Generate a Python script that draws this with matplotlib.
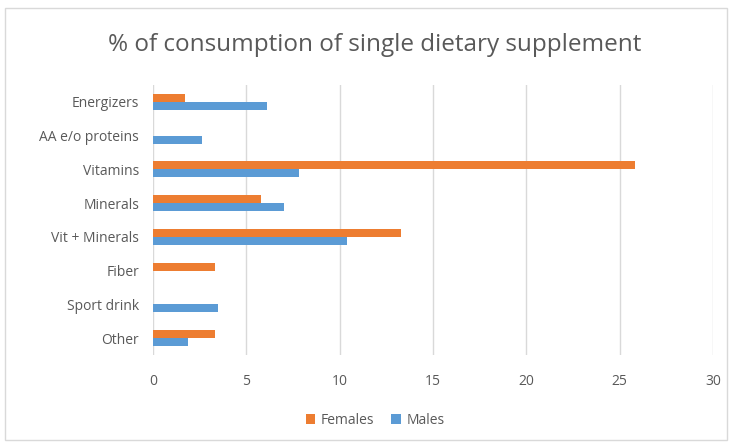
import numpy as np
import matplotlib.pyplot as plt
from matplotlib.patches import Rectangle

categories = ['Energizers', 'AA e/o proteins', 'Vitamins', 'Minerals',
              'Vit + Minerals', 'Fiber', 'Sport drink', 'Other']
females = [1.7, 0, 25.8, 5.8, 13.3, 3.3, 0, 3.3]
males = [6.1, 2.6, 7.8, 7.0, 10.4, 0, 3.5, 1.9]

plt.rcParams['font.family'] = ['Open Sans', 'DejaVu Sans']
grey = '#595959'

fig = plt.figure(figsize=(7.37, 4.48), dpi=100)
ax = fig.add_axes([153/737, 1-355/448, (713-153)/737, (355-85)/448])

y = np.arange(len(categories))
h = 0.24
ax.barh(y - h/2, females, height=h, color='#ED7D31', label='Females', zorder=3)
ax.barh(y + h/2, males, height=h, color='#5B9BD5', label='Males', zorder=3)

ax.set_xlim(0, 30)
ax.set_ylim(len(categories) - 0.5, -0.5)
ax.set_xticks(range(0, 31, 5))
ax.set_yticks(y)
ax.set_yticklabels(categories)
ax.tick_params(axis='both', length=0, colors=grey, labelsize=10)
ax.tick_params(axis='x', pad=14)
ax.tick_params(axis='y', pad=10)
ax.grid(axis='x', color='#d9d9d9', linewidth=1, zorder=0)
for s in ax.spines.values():
    s.set_visible(False)

fig.text(0.509, 1-45/448, '% of consumption of single dietary supplement',
         ha='center', va='center', fontsize=17.5, color=grey)

leg = fig.legend(loc='center', bbox_to_anchor=(375/737, 1-420/448), ncol=2,
                 frameon=False, fontsize=10, handlelength=0.7, handleheight=0.7,
                 columnspacing=1.2, handletextpad=0.4)
for t in leg.get_texts():
    t.set_color(grey)

fig.patches.append(Rectangle((5/737, 1-440/448), 722/737, 432/448,
                             transform=fig.transFigure, fill=False,
                             edgecolor='#d9d9d9', linewidth=1))

fig.savefig('out.png', dpi=100)
